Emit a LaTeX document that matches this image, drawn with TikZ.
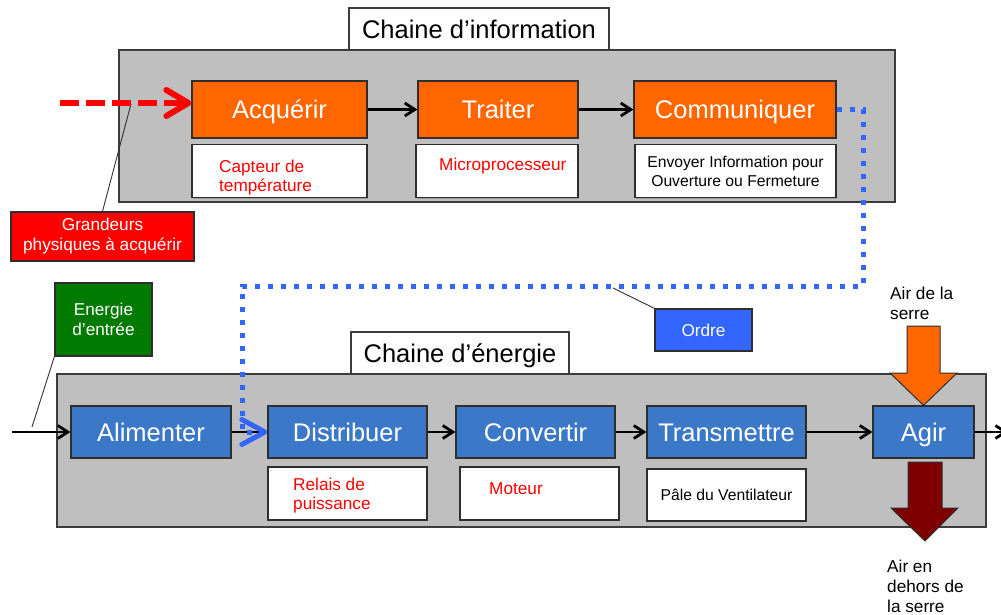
\documentclass[tikz,border=0pt]{standalone}
\usepackage{fontspec}
\setmainfont{Liberation Sans}
\usetikzlibrary{arrows.meta,calc,shadows}

\definecolor{panelgray}{HTML}{BFBFBF}
\definecolor{frameline}{HTML}{3C3C3C}
\definecolor{boxline}{HTML}{2E2E2E}
\definecolor{infoorange}{HTML}{FF6600}
\definecolor{energyblue}{HTML}{3B78C7}
\definecolor{orderblue}{HTML}{3366FF}
\definecolor{alertred}{HTML}{FF0000}
\definecolor{inputgreen}{HTML}{007A00}
\definecolor{exhaustred}{HTML}{7F0000}
\definecolor{leader}{HTML}{303030}

\newcommand\fsTitle{\fontsize{25.5}{28}\selectfont}
\newcommand\fsBlock{\fontsize{25.5}{28}\selectfont}
\newcommand\fsNote{\fontsize{17.2}{19.5}\selectfont}
\newcommand\fsSmall{\fontsize{15.7}{19}\selectfont}
\newcommand\fsTag{\fontsize{17.2}{20}\selectfont}

\tikzset{
  softshadow/.style={drop shadow={shadow xshift=1.2pt, shadow yshift=-1.2pt, opacity=0.18, fill=black}},
  capcentred/.style={text height=18.4pt, text depth=0pt},
  panel/.style={draw=frameline, fill=panelgray, line width=1.5pt, inner sep=0pt, softshadow},
  titlebox/.style={draw=frameline, fill=white, line width=1.2pt, inner sep=0pt, font=\fsTitle,
    capcentred},
  infoblock/.style={draw=boxline, fill=infoorange, line width=1.3pt, inner sep=0pt,
    text=white, font=\fsBlock, capcentred, softshadow},
  energyblock/.style={draw=boxline, fill=energyblue, line width=1.3pt, inner sep=0pt,
    text=white, font=\fsBlock, capcentred, softshadow},
  notebox/.style={draw=boxline, fill=white, line width=1.3pt, inner sep=0pt, softshadow},
  redtext/.style={text=alertred, font=\fsNote, align=left, inner sep=0pt, anchor=north west},
  blacktext/.style={text=black, font=\fsSmall, align=center, inner sep=0pt},
  tag/.style={draw=boxline, line width=1.3pt, inner sep=0pt, text=white, font=\fsTag,
    align=center, softshadow},
  plaintext/.style={text=black, font=\fsTag, align=left, inner sep=0pt, anchor=north west},
  flow/.style={draw=black, line width=2.8pt, -{Straight Barb[length=10pt,width=13pt]}},
  leaderline/.style={draw=leader, line width=0.9pt},
  sensorflow/.style={draw=alertred, line width=6pt, dash pattern=on 19pt off 7pt,
    -{Straight Barb[length=22pt,width=26pt,round]}},
  orderflow/.style={draw=orderblue, line width=5pt, dash pattern=on 5pt off 8pt,
    -{Straight Barb[length=23pt,width=25pt,round]}},
}

\begin{document}
\begin{tikzpicture}[x=1pt,y=-1pt]
\useasboundingbox (0,0) rectangle (1001,615);

% ---------- information chain ----------
\node[panel, minimum width=776, minimum height=152] (infochain) at (507,126) {};
\node[titlebox, minimum width=260, minimum height=42] (infotitle) at (479,29) {Chaine d’information};

\node[infoblock, minimum width=175, minimum height=57] (acq) at (279.5,109.5) {Acquérir};
\node[infoblock, minimum width=160, minimum height=57] (traiter) at (498,109.5) {Traiter};
\node[infoblock, minimum width=202, minimum height=57] (comm) at (735,109.5) {Communiquer};

\node[notebox, minimum width=175, minimum height=53] (capteur) at (279.5,171) {};
\node[notebox, minimum width=162, minimum height=53] (micro) at (497,171) {};
\node[notebox, minimum width=201, minimum height=53] (envoyer) at (735.5,171) {};

\node[redtext] (capteurtxt) at (219,159.5) {Capteur de\\température};
\node[redtext] (microtxt) at (439,157.5) {Microprocesseur};
\node[blacktext] (envoyertxt) at (envoyer.center) {Envoyer Information pour\\Ouverture ou Fermeture};

\draw[flow] (acq.east) -- (traiter.west);
\draw[flow] (traiter.east) -- (comm.west);

% sensed quantities
\node[tag, fill=alertred, minimum width=183, minimum height=49] (grandeurs) at (102.5,236.5)
  {Grandeurs\\physiques à acquérir};
\coordinate (sensorstart) at (60,103);
\coordinate (sensormark) at (131,104);
\draw[leaderline] (grandeurs.north) -- (sensormark);
\draw[sensorflow] (sensorstart) -- (sensorstart -| acq.west);

% ---------- energy chain ----------
\node[panel, minimum width=929, minimum height=153] (energychain) at (521.5,450.5) {};
\node[titlebox, minimum width=218, minimum height=42] (energytitle) at (460,353) {Chaine d’énergie};

\node[energyblock, minimum width=160, minimum height=52] (alim) at (151,432) {Alimenter};
\node[energyblock, minimum width=159, minimum height=52] (distrib) at (347.5,432) {Distribuer};
\node[energyblock, minimum width=159, minimum height=52] (conv) at (535.5,432) {Convertir};
\node[energyblock, minimum width=159, minimum height=52] (trans) at (726.5,432) {Transmettre};
\node[energyblock, minimum width=101, minimum height=52] (agir) at (923.5,432) {Agir};

\node[notebox, minimum width=159, minimum height=53] (relais) at (347.5,493.5) {};
\node[notebox, minimum width=159, minimum height=53] (moteur) at (539.5,493.5) {};
\node[notebox, minimum width=159, minimum height=52] (pale) at (726.5,495) {};

\node[redtext] (relaistxt) at (293,477.5) {Relais de\\puissance};
\node[redtext] (moteurtxt) at (489,482.5) {Moteur};
\node[blacktext] (paletxt) at (pale.center) {Pâle du Ventilateur};

\coordinate (powerin) at (12,432);
\coordinate (powerout) at (1008,432);
\draw[flow] (powerin) -- (alim.west);
\draw[flow] (alim.east) -- (distrib.west);
\draw[flow] (distrib.east) -- (conv.west);
\draw[flow] (conv.east) -- (trans.west);
\draw[flow] (trans.east) -- (agir.west);
\draw[flow] (agir.east) -- (powerout);

% input energy
\node[tag, fill=inputgreen, minimum width=97, minimum height=73] (energie) at (103.5,319.5)
  {Energie\\d’entrée};
\coordinate (energymark) at (32,427);
\draw[leaderline] (energie.south west) -- (energymark);

% order from the information chain to the energy chain
\coordinate (orderright) at (863,286);
\coordinate (orderleft) at (242,286);
\draw[orderflow] (comm.east) -| (orderright) -- (orderleft) |- (distrib.west);

\node[tag, fill=orderblue, minimum width=97, minimum height=42] (ordre) at (703.5,330) {Ordre};
\coordinate (ordermark) at (613,288);
\draw[leaderline] (ordre.north west) -- (ordermark);

% air through the fan
\fill[infoorange, draw=boxline, line width=1pt]
  (907,326) -- (940,326) -- (940,373) -- (957,373) -- (agir.north) -- (890,373) -- (907,373) -- cycle;
\fill[exhaustred, draw=boxline, line width=1pt]
  (908,462) -- (942,462) -- (942,508) -- (958,508) -- (925,541) -- (891,508) -- (908,508) -- cycle;

\node[plaintext] (airin) at (890,287) {Air de la\\serre};
\node[plaintext] (airout) at (887,560) {Air en\\dehors de\\la serre};
\end{tikzpicture}
\end{document}
